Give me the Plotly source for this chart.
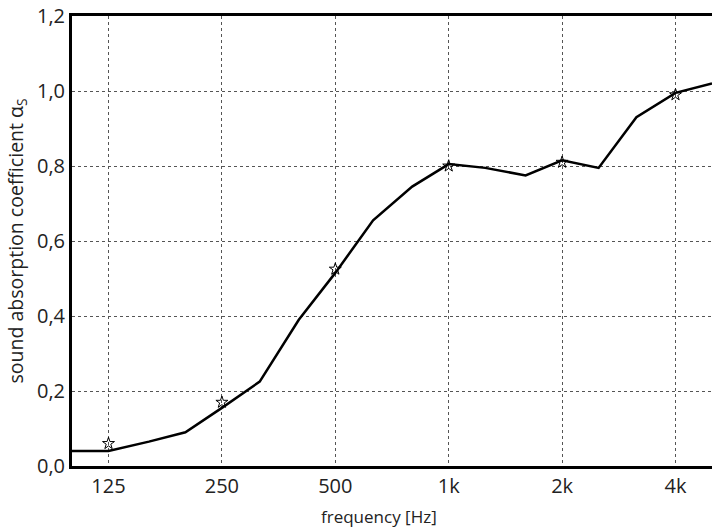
import plotly.graph_objects as go

freq = [100, 125, 160, 200, 250, 315, 400, 500, 630, 800, 1000, 1250, 1600, 2000, 2500, 3150, 4000, 5000]
alpha = [0.04, 0.04, 0.065, 0.09, 0.155, 0.225, 0.39, 0.515, 0.655, 0.745, 0.805, 0.795, 0.775, 0.815, 0.795, 0.93, 0.995, 1.02]

oct_freq = [125, 250, 500, 1000, 2000, 4000]
oct_alpha = [0.06, 0.17, 0.525, 0.80, 0.81, 0.99]

tick_vals = [125, 250, 500, 1000, 2000, 4000]
tick_text = ["125", "250", "500", "1k", "2k", "4k"]
y_ticks = [0, 0.2, 0.4, 0.6, 0.8, 1.0, 1.2]

fig = go.Figure()
fig.add_trace(go.Scatter(x=freq, y=alpha, mode="lines",
                         line=dict(color="black", width=2.5), showlegend=False))
fig.add_trace(go.Scatter(x=oct_freq, y=oct_alpha, mode="markers",
                         marker=dict(symbol="star-open", size=9, color="black",
                                     line=dict(width=1, color="black")),
                         showlegend=False))

fig.update_layout(
    width=712, height=529,
    margin=dict(l=72, r=0, t=16, b=63),
    paper_bgcolor="white", plot_bgcolor="white",
    separators=",.",
    font=dict(family="Open Sans", size=20, color="#222"),
    xaxis=dict(type="log", range=[2, 3.69897],
               tickvals=tick_vals, ticktext=tick_text,
               showgrid=True, gridcolor="#555", griddash="dot", gridwidth=1,
               showline=True, linecolor="black", linewidth=3, mirror=True,
               ticks="", zeroline=False),
    yaxis=dict(range=[0, 1.2], tickvals=y_ticks, tickformat=".1f",
               showgrid=True, gridcolor="#555", griddash="dot", gridwidth=1,
               showline=True, linecolor="black", linewidth=3, mirror=False,
               ticks="", zeroline=False,
               title=dict(text="sound absorption coefficient α<sub>S</sub>",
                          font=dict(size=19.5), standoff=9)),
    annotations=[dict(text="frequency [Hz]", xref="paper", yref="paper",
                      x=0.48, y=0, yshift=-50, xanchor="center", yanchor="middle",
                      showarrow=False, font=dict(size=17))],
)

fig.write_html("out.html", config={"displayModeBar": False},
               post_script="document.body.style.margin='0';document.body.style.padding='0';")
